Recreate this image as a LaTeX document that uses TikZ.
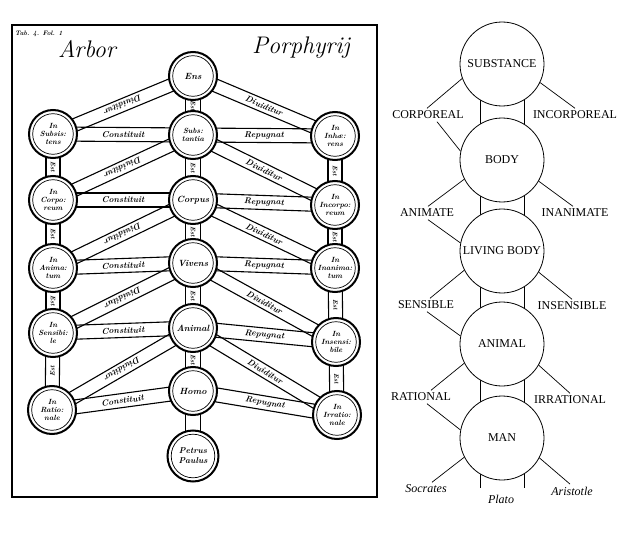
\documentclass[tikz,border=0pt]{standalone}
\usepackage{fontspec}
\newfontfamily\tnr{Liberation Serif}
\usetikzlibrary{calc,backgrounds}
\tikzset{
  circ/.style={circle, draw, line width=0.8pt, minimum size=84pt, inner sep=0pt, fill=white,
    font=\tnr\fontsize{12}{14}\selectfont},
  lab/.style={inner sep=2.5pt, font=\tnr\fontsize{12}{14}\selectfont},
  ilab/.style={inner sep=2.5pt, font=\tnr\itshape\fontsize{12}{14}\selectfont},
  rline/.style={line width=0.7pt},
  wc/.style={circle, draw, line width=2pt, minimum size=48pt, inner sep=0pt, fill=white, align=center,
    font=\bfseries\itshape\fontsize{7.5}{8}\selectfont,
    path picture={\draw[line width=0.7pt] (path picture bounding box.center) circle (20.3pt);}},
  wcc/.style={wc, font=\bfseries\itshape\fontsize{9}{9.5}\selectfont},
  band/.style={line width=1.1pt},
  bl/.style={font=\bfseries\itshape\fontsize{8.5}{9}\selectfont, inner sep=0pt},
  vl/.style={font=\bfseries\itshape\fontsize{6.5}{7}\selectfont, inner sep=0pt}
}
\newcommand\wband[5]{%
  \draw[band] ($(#1)!#3!90:(#2)$) -- ($(#2)!#3!-90:(#1)$);
  \draw[band] ($(#1)!#3!-90:(#2)$) -- ($(#2)!#3!90:(#1)$);
  \path (#1) -- node[#5]{#4} (#2);
}
\begin{document}
\begin{tikzpicture}[x=1pt,y=-1pt]
\useasboundingbox (0,0) rectangle (627,535);
% ---------------- left: woodcut tree ----------------
\draw[line width=1.8pt] (12,25) rectangle (377,497);
\node[font=\bfseries\itshape\fontsize{6.5}{6.5}\selectfont, inner sep=0pt, anchor=west] (tab) at (15,34) {Tab. 4. Fol. 1};
\node[font=\itshape\fontsize{24}{24}\selectfont, inner sep=0pt] (arbor) at (87,49) {Arbor};
\node[font=\itshape\fontsize{24}{24}\selectfont, inner sep=0pt] (porph) at (301,48) {Porphyrij};

\node[wcc] (ens) at (193,76) {Ens};
\node[wc] (c1) at (193,135) {Subs:\\tantia};
\node[wcc] (c2) at (193,200) {Corpus};
\node[wcc] (c3) at (193,263) {Vivens};
\node[wcc] (c4) at (193,328) {Animal};
\node[wcc] (c5) at (193,391) {Homo};
\node[wc, minimum size=51pt, font=\bfseries\itshape\fontsize{8.5}{10}\selectfont,
  path picture={\draw[line width=0.7pt] (path picture bounding box.center) circle (21.8pt);}] (c6) at (193,456) {Petrus\\Paulus};

\node[wc] (l1) at (53,134) {In\\Subsis:\\tens};
\node[wc] (l2) at (53,200) {In\\Corpo:\\reum};
\node[wc] (l3) at (53,268) {In\\Anima:\\tum};
\node[wc] (l4) at (53,333) {In\\Sensibi:\\le};
\node[wc] (l5) at (52,410) {In\\Ratio:\\nale};

\node[wc] (r1) at (335,136) {In\\Inhæ:\\rens};
\node[wc] (r2) at (335,205) {In\\Incorpo:\\reum};
\node[wc] (r3) at (335,268) {In\\Inanima:\\tum};
\node[wc] (r4) at (336,342) {In\\Insensi:\\bile};
\node[wc] (r5) at (337,415) {In\\Irratio:\\nale};

\begin{pgfonlayer}{background}
  % vertical bands, centre column
  \wband{ens}{c1}{7.5pt}{Est}{vl,sloped}
  \wband{c1}{c2}{7.5pt}{Est}{vl,sloped}
  \wband{c2}{c3}{7.5pt}{Est}{vl,sloped}
  \wband{c3}{c4}{7.5pt}{Est}{vl,sloped}
  \wband{c4}{c5}{7.5pt}{Est}{vl,sloped}
  \wband{c5}{c6}{7.5pt}{}{vl}
  % vertical bands, side columns
  \wband{l1}{l2}{7pt}{Est}{vl,sloped}
  \wband{l2}{l3}{7pt}{Est}{vl,sloped}
  \wband{l3}{l4}{7pt}{Est}{vl,sloped}
  \wband{l4}{l5}{7pt}{Est}{vl,sloped}
  \wband{r1}{r2}{7pt}{Est}{vl,sloped}
  \wband{r2}{r3}{7pt}{Est}{vl,sloped}
  \wband{r3}{r4}{7pt}{Est}{vl,sloped}
  \wband{r4}{r5}{7pt}{Est}{vl,sloped}
  % horizontal bands
  \wband{l1}{c1}{7pt}{Constituit}{bl,sloped}
  \wband{l2}{c2}{7pt}{Constituit}{bl,sloped}
  \wband{l3}{c3}{7pt}{Constituit}{bl,sloped}
  \wband{l4}{c4}{7pt}{Constituit}{bl,sloped}
  \wband{l5}{c5}{7pt}{Constituit}{bl,sloped}
  \wband{c1}{r1}{7pt}{Repugnat}{bl,sloped}
  \wband{c2}{r2}{7pt}{Repugnat}{bl,sloped}
  \wband{c3}{r3}{7pt}{Repugnat}{bl,sloped}
  \wband{c4}{r4}{7pt}{Repugnat}{bl,sloped}
  \wband{c5}{r5}{7pt}{Repugnat}{bl,sloped}
  % diagonal bands
  \wband{ens}{l1}{6.5pt}{Diuiditur}{bl,sloped,allow upside down}
  \wband{c1}{l2}{6.5pt}{Diuiditur}{bl,sloped,allow upside down}
  \wband{c2}{l3}{6.5pt}{Diuiditur}{bl,sloped,allow upside down}
  \wband{c3}{l4}{6.5pt}{Diuiditur}{bl,sloped,allow upside down}
  \wband{c4}{l5}{6.5pt}{Diuiditur}{bl,sloped,allow upside down}
  \wband{ens}{r1}{6.5pt}{Diuiditur}{bl,sloped}
  \wband{c1}{r2}{6.5pt}{Diuiditur}{bl,sloped}
  \wband{c2}{r3}{6.5pt}{Diuiditur}{bl,sloped}
  \wband{c3}{r4}{6.5pt}{Diuiditur}{bl,sloped}
  \wband{c4}{r5}{6.5pt}{Diuiditur}{bl,sloped}
\end{pgfonlayer}

% ---------------- right: modern tree ----------------
\node[circ] (S) at (502,64) {SUBSTANCE};
\node[circ] (B) at (502,160) {BODY};
\node[circ] (LB) at (502,251) {LIVING BODY};
\node[circ] (A) at (502,344) {ANIMAL};
\node[circ] (M) at (502,438) {MAN};
\coordinate (pend) at (502,488);

\begin{pgfonlayer}{background}
  \foreach \u/\v in {S/B, B/LB, LB/A, A/M, M/pend}{
    \draw[rline] ([xshift=-22pt]\u.center) -- ([xshift=-22pt]\v.center);
    \draw[rline] ([xshift=22pt]\u.center) -- ([xshift=22pt]\v.center);
  }
\end{pgfonlayer}

\node[lab] (corp) at (428,115) {CORPOREAL};
\node[lab] (incorp) at (575,115) {INCORPOREAL};
\node[lab] (anim) at (427,213) {ANIMATE};
\node[lab] (inanim) at (575,213) {INANIMATE};
\node[lab] (sens) at (426,305) {SENSIBLE};
\node[lab] (insens) at (572,306) {INSENSIBLE};
\node[lab] (rat) at (421,397) {RATIONAL};
\node[lab] (irrat) at (570,400) {IRRATIONAL};
\node[ilab] (socr) at (426,489) {Socrates};
\node[ilab] (arist) at (572,491) {Aristotle};
\node[ilab] (plato) at (501,499) {Plato};

\draw[rline] (S.200) -- ([xshift=-1pt]corp.north);
\draw[rline] ([xshift=9pt]corp.south) -- (B.168);
\draw[rline] (B.207) -- ([xshift=1pt]anim.north);
\draw[rline] ([xshift=1pt]anim.south) -- (LB.169);
\draw[rline] (LB.207) -- ([xshift=4pt]sens.north);
\draw[rline] ([xshift=1pt]sens.south) -- (A.169);
\draw[rline] (A.207) -- ([xshift=10pt]rat.north);
\draw[rline] ([xshift=6pt]rat.south) -- (M.169);
\draw[rline] (M.207) -- ([xshift=6pt]socr.north);

\draw[rline] (S.334) -- (incorp.north);
\draw[rline] (B.330) -- ([xshift=-2pt]inanim.north);
\draw[rline] (LB.330) -- (insens.north);
\draw[rline] (A.330) -- (irrat.north);
\draw[rline] (M.332) -- ([xshift=-2pt]arist.north);
\end{tikzpicture}
\end{document}
